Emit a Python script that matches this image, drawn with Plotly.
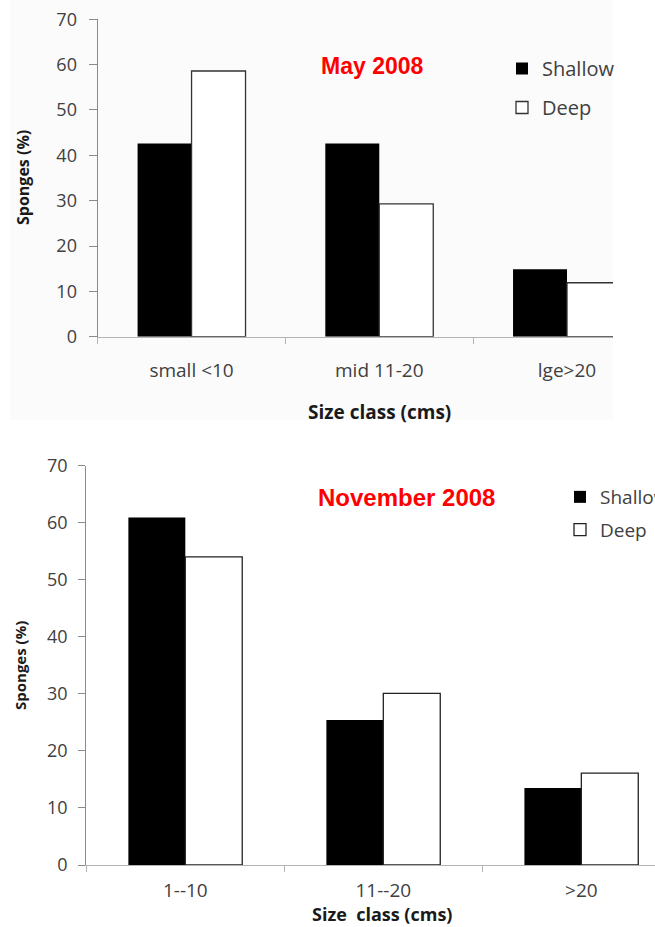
import plotly.graph_objects as go

# Size-class distribution of sponges at shallow and deep sites
may_classes = ["small <10", "mid 11-20", "lge>20"]
may_shallow = [42.6, 42.6, 14.9]
may_deep = [58.6, 29.3, 11.9]

nov_classes = ["1--10", "11--20", ">20"]
nov_shallow = [60.9, 25.4, 13.5]
nov_deep = [54.0, 30.1, 16.1]

y_ticks = [0, 10, 20, 30, 40, 50, 60, 70]

W, H = 655, 927
TICK_FONT = dict(family="Open Sans", size=18, color="#404040")
CAT_FONT = dict(family="Open Sans", size=19, color="#404040")


def px_x(v):
    return v / W


def px_y(v):
    return 1 - v / H


fig = go.Figure()

# May 2008 panel
fig.add_trace(go.Bar(x=may_classes, y=may_shallow, name="Shallow", xaxis="x", yaxis="y",
                     marker=dict(color="black", line=dict(color="black", width=0)),
                     legend="legend", legendgroup="s1"))
fig.add_trace(go.Bar(x=may_classes, y=may_deep, name="Deep", xaxis="x", yaxis="y",
                     marker=dict(color="white", line=dict(color="#333333", width=1.3)),
                     legend="legend", legendgroup="d1"))

# November 2008 panel
fig.add_trace(go.Bar(x=nov_classes, y=nov_shallow, name="Shallow", xaxis="x2", yaxis="y2",
                     marker=dict(color="black", line=dict(color="black", width=0)),
                     legend="legend2", legendgroup="s2"))
fig.add_trace(go.Bar(x=nov_classes, y=nov_deep, name="Deep", xaxis="x2", yaxis="y2",
                     marker=dict(color="white", line=dict(color="#222222", width=1.3)),
                     legend="legend2", legendgroup="d2"))

xcommon = dict(type="category", showline=True, linecolor="#b4b4b4", linewidth=1.3,
               ticks="outside", tickson="boundaries", ticklen=6, tickcolor="#b4b4b4",
               showgrid=False, zeroline=False, tickfont=CAT_FONT, fixedrange=True,
               automargin=False)
ycommon = dict(range=[0, 70], tickvals=y_ticks, showline=True, linecolor="#8a8a8a",
               linewidth=1.3, ticks="outside", ticklen=8, tickcolor="#8a8a8a",
               showgrid=False, zeroline=False, tickfont=TICK_FONT, fixedrange=True,
               automargin=False)

fig.update_layout(
    width=W, height=H,
    margin=dict(l=0, r=0, t=0, b=0, autoexpand=False),
    paper_bgcolor="white", plot_bgcolor="rgba(0,0,0,0)",
    barmode="group", bargap=0.425, bargroupgap=0,
    xaxis=dict(xcommon, domain=[px_x(97.7), px_x(613)], range=[-0.5, 2.245],
               anchor="y", ticklabelstandoff=16),
    yaxis=dict(ycommon, domain=[px_y(336.7), px_y(19.3)], anchor="x",
               ticklabelstandoff=8),
    xaxis2=dict(xcommon, domain=[px_x(86.3), 1.0], range=[-0.5, 2.372],
                anchor="y2", ticklabelstandoff=8),
    yaxis2=dict(ycommon, domain=[px_y(865), px_y(465.7)], anchor="x2",
                ticklabelstandoff=7, ticklen=7),
    legend=dict(x=px_x(502), y=px_y(49), xanchor="left", yanchor="top",
                bgcolor="rgba(0,0,0,0)", borderwidth=0, tracegroupgap=10,
                font=dict(family="Open Sans", size=20, color="#404040")),
    legend2=dict(x=px_x(560), y=px_y(478), xanchor="left", yanchor="top",
                 bgcolor="rgba(0,0,0,0)", borderwidth=0, tracegroupgap=5,
                 font=dict(family="Open Sans", size=19, color="#404040")),
    shapes=[dict(type="rect", xref="paper", yref="paper", layer="below",
                 x0=px_x(10), x1=px_x(613), y0=px_y(420), y1=1.0,
                 fillcolor="#fbfbfb", line=dict(width=0))],
    annotations=[
        dict(text="<b>May 2008</b>", x=px_x(372), y=px_y(66), xref="paper", yref="paper",
             showarrow=False, xanchor="center", yanchor="middle",
             font=dict(family="Liberation Sans", size=23, color="#ff0000")),
        dict(text="<b>November 2008</b>", x=px_x(406.5), y=px_y(497), xref="paper", yref="paper",
             showarrow=False, xanchor="center", yanchor="middle",
             font=dict(family="Liberation Sans", size=24, color="#ff0000")),
        dict(text="<b>Size class (cms)</b>", x=px_x(379.7), y=px_y(412), xref="paper", yref="paper",
             showarrow=False, xanchor="center", yanchor="middle",
             font=dict(family="Open Sans", size=19, color="#1a1a1a")),
        dict(text="<b>Size\u00a0\u00a0class (cms)</b>", x=px_x(381.7), y=px_y(914), xref="paper",
             yref="paper", showarrow=False, xanchor="center", yanchor="middle",
             font=dict(family="Open Sans", size=18, color="#1a1a1a")),
        dict(text="<b>Sponges (%)</b>", x=px_x(23), y=px_y(178), xref="paper", yref="paper",
             showarrow=False, xanchor="center", yanchor="middle", textangle=-90,
             font=dict(family="Open Sans", size=16, color="#1a1a1a")),
        dict(text="<b>Sponges (%)</b>", x=px_x(20), y=px_y(666), xref="paper", yref="paper",
             showarrow=False, xanchor="center", yanchor="middle", textangle=-90,
             font=dict(family="Open Sans", size=15, color="#1a1a1a")),
    ],
)

fig.write_html("out.html")
